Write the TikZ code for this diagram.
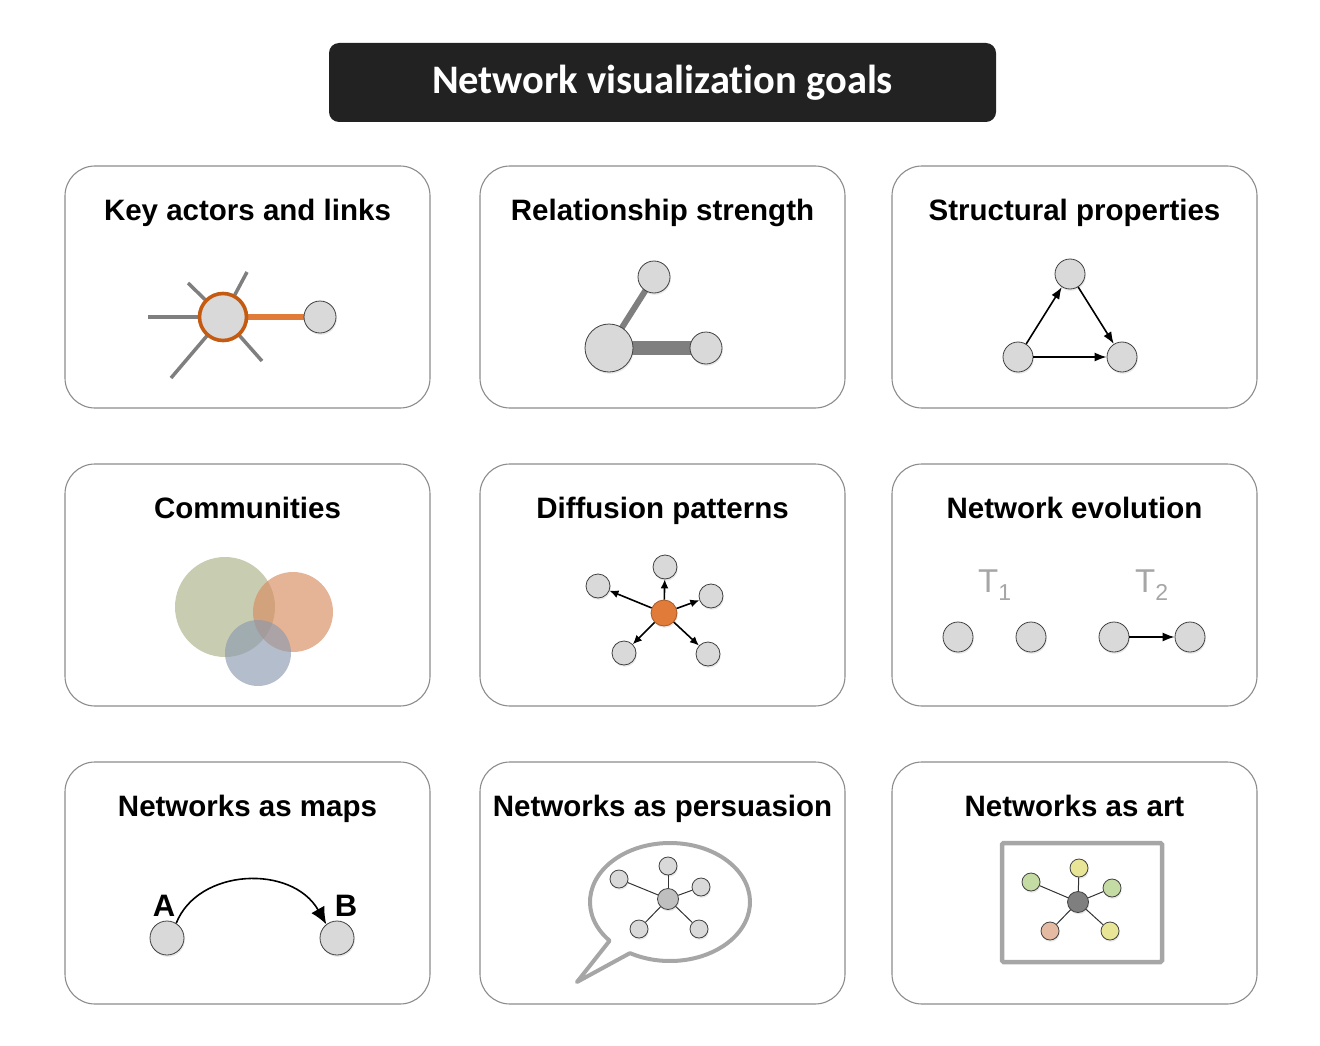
\documentclass[tikz,border=0pt]{standalone}
\usepackage{fontspec}
\setmainfont{Liberation Sans}
\newfontfamily\titlefont[Ligatures={NoCommon}]{Carlito}
\usetikzlibrary{arrows.meta,shadows,calc}
\pgfdeclarelayer{edges}
\pgfsetlayers{edges,main}
\definecolor{nodefill}{HTML}{D9D9D9}
\definecolor{nodeline}{HTML}{404040}
\definecolor{framegray}{HTML}{8C8C8C}
\definecolor{edgegray}{HTML}{7F7F7F}
\definecolor{lightgray}{HTML}{A6A6A6}
\definecolor{orangeedge}{HTML}{E07B39}
\definecolor{orangering}{HTML}{C55A11}
\definecolor{orangedark}{HTML}{A65A2A}
\definecolor{commgreen}{RGB}{171,178,137}
\definecolor{commorange}{RGB}{215,140,94}
\definecolor{commblue}{RGB}{140,154,175}
\definecolor{artyellow}{HTML}{E8E696}
\definecolor{artgreen}{HTML}{C4DBA3}
\definecolor{artsalmon}{HTML}{E5BAA3}
\definecolor{titlebg}{HTML}{222222}
\begin{document}
\begin{tikzpicture}[x=1pt,y=-1pt,
  panel/.style={draw=framegray,line width=1.1pt,rounded corners=30pt},
  ptitle/.style={anchor=base,font=\fontsize{29.5}{32}\selectfont\bfseries,inner sep=0pt},
  nd/.style={circle,draw=nodeline,line width=0.8pt,fill=nodefill,inner sep=0pt,minimum size=#1,
    drop shadow={opacity=0.18,shadow xshift=0.8pt,shadow yshift=-1.8pt}},
  nd/.default=30pt,
  arr/.style={-{Latex[length=12pt,width=9pt]},line width=1.6pt,black},
  sarr/.style={-{Latex[length=9pt,width=8pt]},line width=1.6pt,black},
  spoke/.style={edgegray,line width=3.5pt},
  thin/.style={line width=1pt,black!80},
  comm/.style={fill opacity=0.65},
  tlabel/.style={anchor=base west,inner sep=0pt,lightgray,font=\fontsize{33}{36}\selectfont},
  ablabel/.style={anchor=base,inner sep=0pt,font=\fontsize{31}{34}\selectfont\bfseries}
]
\useasboundingbox (0,0) rectangle (1320,1046);

% title
\node[fill=titlebg,rounded corners=10pt,minimum width=667pt,minimum height=79pt,text=white,
  font=\titlefont\fontsize{40.5}{44}\selectfont\bfseries] (title) at (662.5,82.5) {Network visualization goals};

% panels
\draw[panel] (65,166) rectangle (430,408);
\draw[panel] (480,166) rectangle (845,408);
\draw[panel] (892,166) rectangle (1257,408);
\draw[panel] (65,464) rectangle (430,706);
\draw[panel] (480,464) rectangle (845,706);
\draw[panel] (892,464) rectangle (1257,706);
\draw[panel] (65,762) rectangle (430,1004);
\draw[panel] (480,762) rectangle (845,1004);
\draw[panel] (892,762) rectangle (1257,1004);

\node[ptitle] (t1) at (247.5,220) {Key actors and links};
\node[ptitle] (t2) at (662.5,220) {Relationship strength};
\node[ptitle] (t3) at (1074.5,220) {Structural properties};
\node[ptitle] (t4) at (247.5,518) {Communities};
\node[ptitle] (t5) at (662.5,518) {Diffusion patterns};
\node[ptitle] (t6) at (1074.5,518) {Network evolution};
\node[ptitle] (t7) at (247.5,816) {Networks as maps};
\node[ptitle] (t8) at (662.5,816) {Networks as persuasion};
\node[ptitle] (t9) at (1074.5,816) {Networks as art};

% 1 key actors
\node[nd=47pt,draw=orangering,line width=3.6pt] (k0) at (223,317) {};
\node[nd=32pt] (k1) at (320,317) {};
\coordinate (s1) at (148,317);
\coordinate (s2) at (188,283);
\coordinate (s3) at (247,272);
\coordinate (s4) at (171,378);
\coordinate (s5) at (262,361);
\begin{pgfonlayer}{edges}
\foreach \s in {s1,s2,s3,s4,s5} \draw[spoke] (k0.center) -- (\s);
\draw[orangeedge,line width=5.5pt] (k0.center) -- (k1.center);
\end{pgfonlayer}

% 2 relationship strength
\node[nd=48pt] (r0) at (609,348) {};
\node[nd=32pt] (r1) at (654,277) {};
\node[nd=32pt] (r2) at (706,348) {};
\begin{pgfonlayer}{edges}
\draw[edgegray,line width=6pt] (r0.center) -- (r1.center);
\draw[edgegray,line width=14pt] (r0.center) -- (r2.center);
\end{pgfonlayer}

% 3 structural
\node[nd=30pt] (st) at (1070,274) {};
\node[nd=30pt] (sl) at (1018,357) {};
\node[nd=30pt] (sr) at (1122,357) {};
\draw[arr] (sl) -- (st);
\draw[arr] (st) -- (sr);
\draw[arr] (sl) -- (sr);

% 4 communities
\fill[commgreen,comm] (225,607) circle[radius=50];
\fill[commorange,comm] (293,612) circle[radius=40];
\fill[commblue,comm] (258,653) circle[radius=33];

% 5 diffusion
\node[nd=26pt,fill=orangeedge,draw=orangedark] (d0) at (664,613) {};
\node[nd=24pt] (d1) at (665,567) {};
\node[nd=24pt] (d2) at (598,586) {};
\node[nd=24pt] (d3) at (711,596) {};
\node[nd=24pt] (d4) at (624,653) {};
\node[nd=24pt] (d5) at (708,654) {};
\foreach \d in {d1,d2,d3,d4,d5} \draw[sarr] (d0) -- (\d);

% 6 evolution
\node[tlabel] (T1) at (978,592) {T\raisebox{-8pt}{\fontsize{23}{23}\selectfont 1}};
\node[tlabel] (T2) at (1135,592) {T\raisebox{-8pt}{\fontsize{23}{23}\selectfont 2}};
\node[nd=30pt] (e1) at (958,637) {};
\node[nd=30pt] (e2) at (1031,637) {};
\node[nd=30pt] (e3) at (1114,637) {};
\node[nd=30pt] (e4) at (1190,637) {};
\draw[arr] (e3) -- (e4);

% 7 maps
\node[nd=34pt] (ma) at (167,938) {};
\node[nd=34pt] (mb) at (337,938) {};
\node[ablabel] (la) at (164,916) {A};
\node[ablabel] (lb) at (346,916) {B};
\draw[-{Latex[length=17pt,width=15pt]},line width=1.6pt] (ma.58) .. controls (198,868) and (292,864) .. (mb.128);

% 8 persuasion
\draw[lightgray,line width=4pt,line join=round] ($(670,902)+(139:80 and 59)$) arc[start angle=139,end angle=480,x radius=80,y radius=59] -- (577,982) -- cycle;
\node[nd=21pt,fill=black!25] (q0) at (668,899) {};
\node[nd=18pt] (q1) at (668,866) {};
\node[nd=18pt] (q2) at (619,879) {};
\node[nd=18pt] (q3) at (701,887) {};
\node[nd=18pt] (q4) at (639,929) {};
\node[nd=18pt] (q5) at (699,929) {};
\foreach \q in {q1,q2,q3,q4,q5} \draw[thin] (q0) -- (\q);

% 9 art
\draw[lightgray,line width=4.5pt,rounded corners=1.5pt] (1002,843) rectangle (1162,962);
\node[nd=21pt,fill=edgegray] (a0) at (1078,902) {};
\node[nd=18pt,fill=artyellow] (a1) at (1079,868) {};
\node[nd=18pt,fill=artgreen] (a2) at (1031,882) {};
\node[nd=18pt,fill=artgreen] (a3) at (1112,888) {};
\node[nd=18pt,fill=artsalmon] (a4) at (1050,931) {};
\node[nd=18pt,fill=artyellow] (a5) at (1110,931) {};
\foreach \a in {a1,a2,a3,a4,a5} \draw[thin] (a0) -- (\a);
\end{tikzpicture}
\end{document}
